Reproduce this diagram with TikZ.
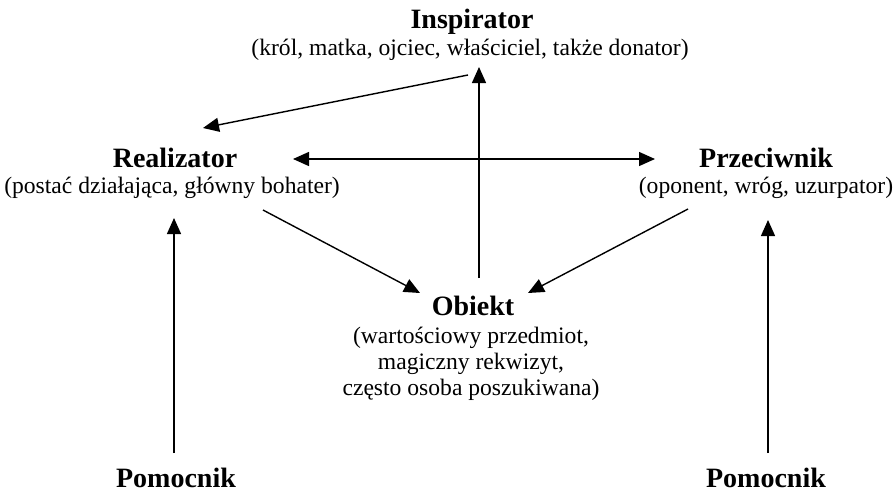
\documentclass[tikz,border=0pt]{standalone}
\usepackage{fontspec}
\setmainfont{Liberation Serif}
\usetikzlibrary{arrows.meta, positioning}

\tikzset{
  title/.style={anchor=base, inner sep=0pt, font=\fontsize{14}{16}\selectfont\bfseries},
  note/.style={anchor=base, inner sep=0pt, align=center, font=\fontsize{11.8}{13}\selectfont},
  arr/.style={line width=0.7pt, -{Triangle[length=8pt,width=7pt]}},
  twoarr/.style={line width=0.7pt, {Triangle[length=8pt,width=7pt]}-{Triangle[length=8pt,width=7pt]}}
}

\begin{document}
\begin{tikzpicture}[x=0.5pt, y=-0.5pt]
  \useasboundingbox (0,0) rectangle (893,493);

  % Roles
  \node[title] (insp) at (472,28) {Inspirator};
  \node[note] (inspnote) at (470,55) {(król, matka, ojciec, właściciel, także donator)};
  \node[title] (real) at (175,167) {Realizator};
  \node[note] (realnote) at (172,193) {(postać działająca, główny bohater)};
  \node[title] (prze) at (766,167) {Przeciwnik};
  \node[note] (przenote) at (766,193) {(oponent, wróg, uzurpator)};
  \node[title] (obj) at (473,315) {Obiekt};
  % base = last line of the block
  \node[note] (objnote) at (471,395) {(wartościowy przedmiot,\\ magiczny rekwizyt,\\ często osoba poszukiwana)};
  \node[title] (pom1) at (176,487) {Pomocnik};
  \node[title] (pom2) at (766,487) {Pomocnik};

  % Arrow ends
  \coordinate (insp-out) at (468,75);
  \coordinate (insp-in) at (479,67);
  \coordinate (real-in) at (203,128);
  \coordinate (real-side) at (293,159);
  \coordinate (real-out) at (263,210);
  \coordinate (real-low) at (174,218);
  \coordinate (prze-side) at (655,159);
  \coordinate (prze-out) at (688,209);
  \coordinate (prze-low) at (768,220);
  \coordinate (obj-left) at (420,293);
  \coordinate (obj-right) at (528,293);
  \coordinate (obj-top) at (479,278);
  \coordinate (pom1-top) at (174,453);
  \coordinate (pom2-top) at (768,453);

  % Connections
  \draw[arr] (insp-out) -- (real-in);
  \draw[twoarr] (real-side) -- (prze-side);
  \draw[arr] (real-out) -- (obj-left);
  \draw[arr] (prze-out) -- (obj-right);
  \draw[arr] (obj-top) -- (insp-in);
  \draw[arr] (pom1-top) -- (real-low);
  \draw[arr] (pom2-top) -- (prze-low);
\end{tikzpicture}
\end{document}
